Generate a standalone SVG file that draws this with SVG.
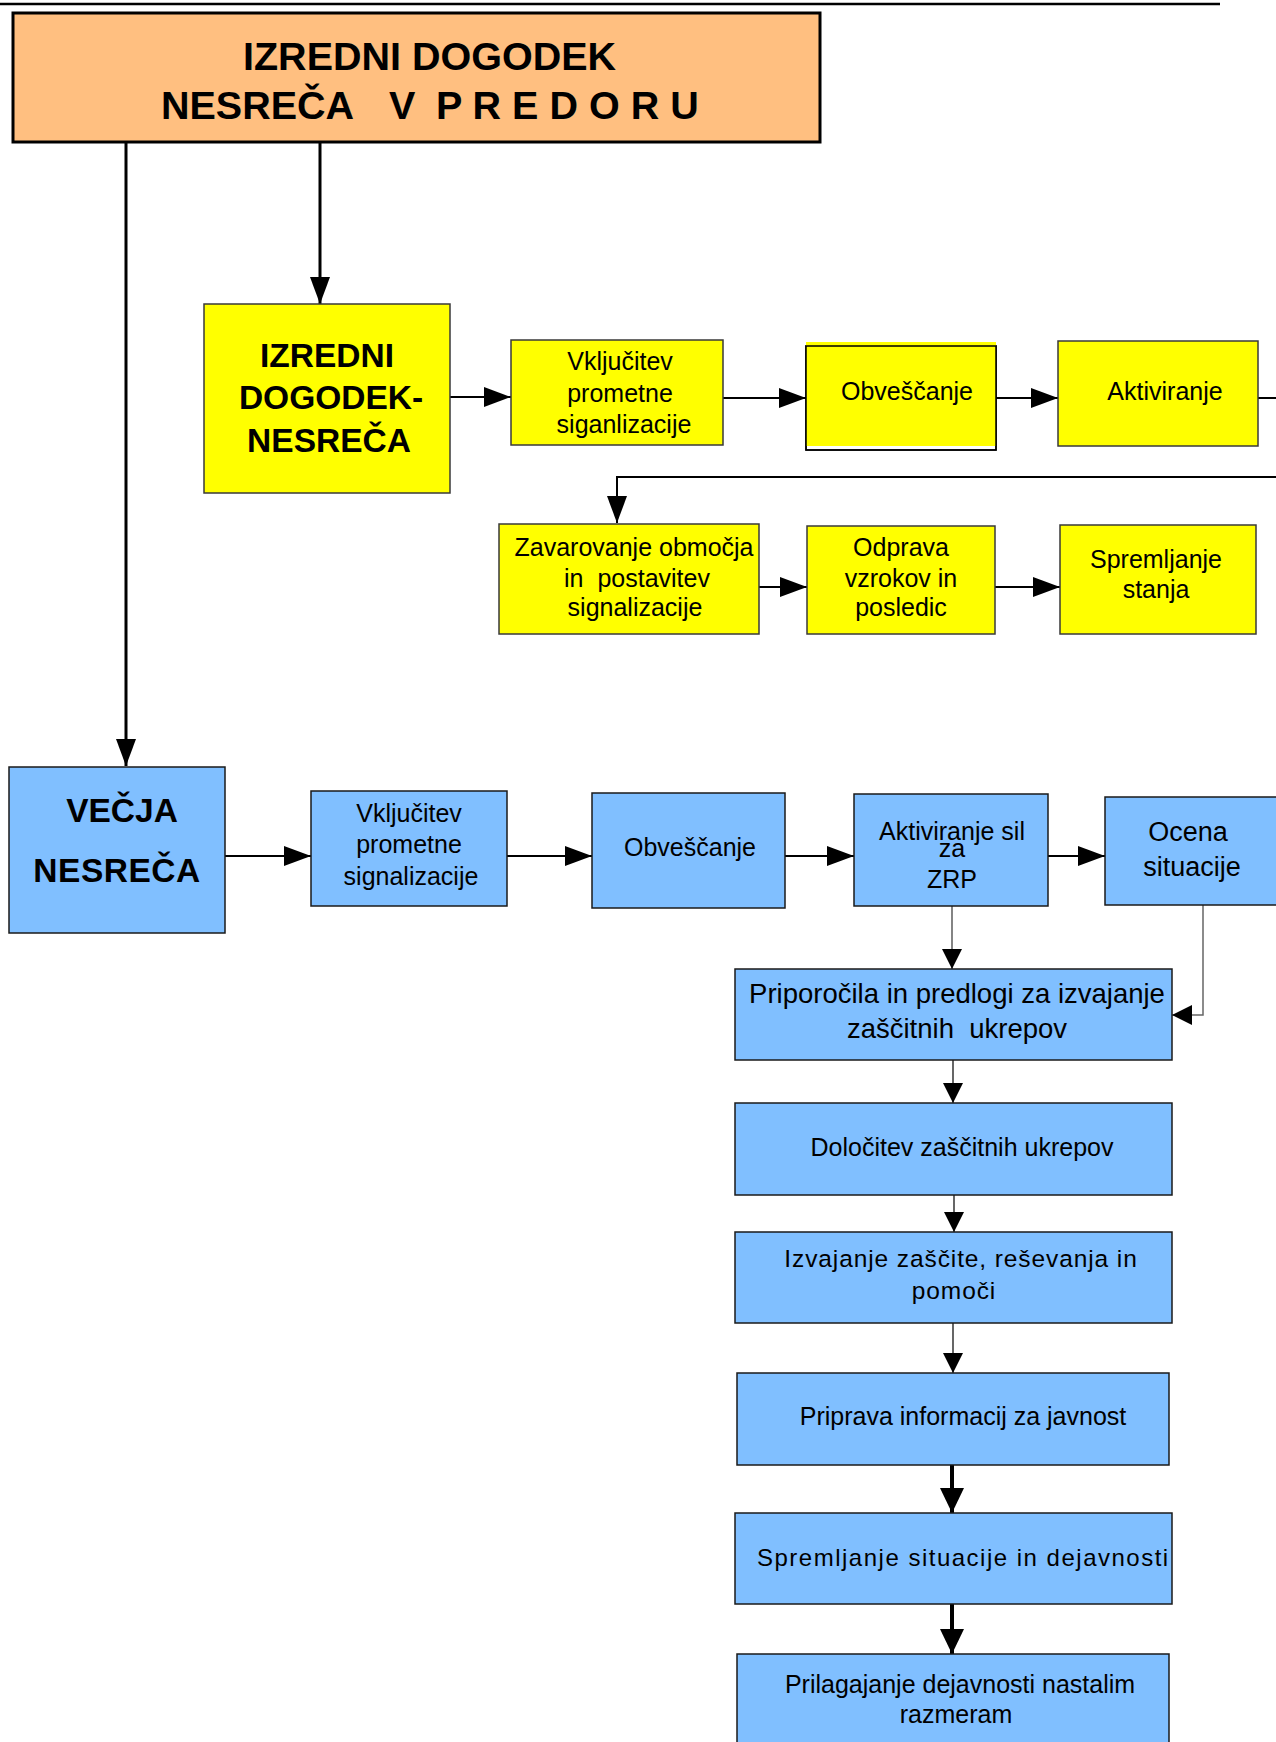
<svg xmlns="http://www.w3.org/2000/svg" width="1276" height="1742" viewBox="0 0 1276 1742">
<style>
text{font-family:"Liberation Sans",Arial,sans-serif;fill:#000}
.t{font-size:25px;text-anchor:middle}
.b{font-weight:bold;text-anchor:middle;font-size:33.5px}
.y{fill:#FFFF00;stroke:#3a3a3a;stroke-width:1.5}
.u{fill:#80BFFF;stroke:#1a1a1a;stroke-width:1.5}
.c{fill:none;stroke:#000;stroke-width:2}
</style>
<defs>
<marker id="a" markerUnits="userSpaceOnUse" markerWidth="27" markerHeight="20" refX="27" refY="10" orient="auto"><path d="M0,0 L27,10 L0,20 z" fill="#000"/></marker>
<marker id="s" markerUnits="userSpaceOnUse" markerWidth="20" markerHeight="20" refX="20" refY="10" orient="auto"><path d="M0,0 L20,10 L0,20 z" fill="#000"/></marker>
<marker id="k" markerUnits="userSpaceOnUse" markerWidth="25" markerHeight="24" refX="25" refY="12" orient="auto"><path d="M0,0 L25,12 L0,24 z" fill="#000"/></marker>
</defs>
<rect width="1276" height="1742" fill="#fff"/>
<line x1="0" y1="4" x2="1220" y2="4" stroke="#000" stroke-width="2.5"/>

<g id="connectors">
<line class="c" x1="126" y1="143" x2="126" y2="766" stroke-width="3" style="stroke-width:3" marker-end="url(#a)"/>
<line class="c" x1="320" y1="143" x2="320" y2="304" style="stroke-width:3" marker-end="url(#a)"/>
<line class="c" x1="450" y1="397" x2="511" y2="397" marker-end="url(#a)"/>
<line class="c" x1="723" y1="398" x2="806" y2="398" marker-end="url(#a)"/>
<line class="c" x1="996" y1="398" x2="1058" y2="398" marker-end="url(#a)"/>
<line class="c" x1="1258" y1="398" x2="1276" y2="398"/>
<polyline class="c" points="1276,477 617,477 617,523" marker-end="url(#a)"/>
<line class="c" x1="759" y1="587" x2="807" y2="587" marker-end="url(#a)"/>
<line class="c" x1="995" y1="587" x2="1060" y2="587" marker-end="url(#a)"/>
<line class="c" x1="225" y1="856" x2="311" y2="856" marker-end="url(#a)"/>
<line class="c" x1="507" y1="856" x2="592" y2="856" marker-end="url(#a)"/>
<line class="c" x1="785" y1="856" x2="854" y2="856" marker-end="url(#a)"/>
<line class="c" x1="1048" y1="856" x2="1105" y2="856" marker-end="url(#a)"/>
<line class="c" x1="952" y1="906" x2="952" y2="969" style="stroke-width:1.2;stroke:#333" marker-end="url(#s)"/>
<polyline class="c" points="1203,905 1203,1015 1172,1015" style="stroke-width:1.5;stroke:#666" marker-end="url(#s)"/>
<line class="c" x1="953" y1="1060" x2="953" y2="1103" style="stroke-width:1.2" marker-end="url(#s)"/>
<line class="c" x1="954" y1="1195" x2="954" y2="1232" style="stroke-width:1.2" marker-end="url(#s)"/>
<line class="c" x1="953" y1="1323" x2="953" y2="1373" style="stroke-width:1.2" marker-end="url(#s)"/>
<line class="c" x1="952" y1="1465" x2="952" y2="1513" style="stroke-width:4" marker-end="url(#k)"/>
<line class="c" x1="952" y1="1604" x2="952" y2="1654" style="stroke-width:4" marker-end="url(#k)"/>
</g>

<g id="n-title">
<rect x="13" y="13" width="807" height="129" fill="#FFBF80" stroke="#000" stroke-width="3"/>
<text x="243" y="70" style="font-size:39.5px;font-weight:bold">IZREDNI DOGODEK</text>
<text y="119" style="font-size:39.5px;font-weight:bold"><tspan x="161">NESREČA</tspan><tspan x="389">V</tspan><tspan x="436">P R E D O R U</tspan></text>
</g>

<g id="n-izredni">
<rect class="y" x="204" y="304" width="246" height="189"/>
<text class="b" x="327" y="367">IZREDNI</text>
<text class="b" x="331" y="409">DOGODEK-</text>
<text class="b" x="329" y="452">NESREČA</text>
</g>

<g id="n-y-vkljucitev">
<rect class="y" x="511" y="340" width="212" height="105"/>
<text class="t" x="620" y="370">Vključitev</text>
<text class="t" x="620" y="402">prometne</text>
<text class="t" x="624" y="433">siganlizacije</text>
</g>

<g id="n-y-obvescanje">
<rect x="806" y="346" width="190" height="104" fill="#fff" stroke="#000" stroke-width="1.5"/>
<rect x="806" y="342" width="190" height="104" fill="#FFFF00"/>
<rect x="806" y="346" width="190" height="104" fill="none" stroke="#000" stroke-width="1.5"/>
<text class="t" x="907" y="400">Obveščanje</text>
</g>

<g id="n-y-aktiviranje">
<rect class="y" x="1058" y="341" width="200" height="105"/>
<text class="t" x="1165" y="400">Aktiviranje</text>
</g>

<g id="n-y-zavarovanje">
<rect class="y" x="499" y="524" width="260" height="110"/>
<text class="t" x="634" y="556">Zavarovanje območja</text>
<text class="t" x="637" y="587" xml:space="preserve">in  postavitev</text>
<text class="t" x="635" y="616">signalizacije</text>
</g>

<g id="n-y-odprava">
<rect class="y" x="807" y="526" width="188" height="108"/>
<text class="t" x="901" y="556">Odprava</text>
<text class="t" x="901" y="587">vzrokov in</text>
<text class="t" x="901" y="616">posledic</text>
</g>

<g id="n-y-spremljanje">
<rect class="y" x="1060" y="525" width="196" height="109"/>
<text class="t" x="1156" y="568">Spremljanje</text>
<text class="t" x="1156" y="598">stanja</text>
</g>

<g id="n-vecja">
<rect class="u" x="9" y="767" width="216" height="166"/>
<text class="b" x="122" y="822">VEČJA</text>
<text class="b" x="117" y="882" style="letter-spacing:0.5px">NESREČA</text>
</g>

<g id="n-b-vkljucitev">
<rect class="u" x="311" y="791" width="196" height="115"/>
<text class="t" x="409" y="822">Vključitev</text>
<text class="t" x="409" y="853">prometne</text>
<text class="t" x="411" y="885">signalizacije</text>
</g>

<g id="n-b-obvescanje">
<rect class="u" x="592" y="793" width="193" height="115"/>
<text class="t" x="690" y="856">Obveščanje</text>
</g>

<g id="n-b-aktiviranje">
<rect class="u" x="854" y="794" width="194" height="112"/>
<text class="t" x="952" y="840">Aktiviranje sil</text>
<text class="t" x="952" y="857">za</text>
<text class="t" x="952" y="888">ZRP</text>
</g>

<g id="n-b-ocena">
<rect class="u" x="1105" y="797" width="185" height="108"/>
<text class="t" x="1188" y="841" style="font-size:27px">Ocena</text>
<text class="t" x="1192" y="876" style="font-size:27px">situacije</text>
</g>

<g id="n-b-priporocila">
<rect class="u" x="735" y="969" width="437" height="91"/>
<text class="t" x="957" y="1003" style="font-size:27.5px">Priporočila in predlogi za izvajanje</text>
<text class="t" x="957" y="1038" style="font-size:27.5px" xml:space="preserve">zaščitnih  ukrepov</text>
</g>

<g id="n-b-dolocitev">
<rect class="u" x="735" y="1103" width="437" height="92"/>
<text class="t" x="962" y="1156">Določitev zaščitnih ukrepov</text>
</g>

<g id="n-b-izvajanje">
<rect class="u" x="735" y="1232" width="437" height="91"/>
<text class="t" x="961" y="1267" style="font-size:24.5px;letter-spacing:0.9px">Izvajanje zaščite, reševanja in</text>
<text class="t" x="954" y="1299" style="font-size:24.5px;letter-spacing:0.9px">pomoči</text>
</g>

<g id="n-b-priprava">
<rect class="u" x="737" y="1373" width="432" height="92"/>
<text class="t" x="963" y="1425">Priprava informacij za javnost</text>
</g>

<g id="n-b-spremljanje">
<rect class="u" x="735" y="1513" width="437" height="91"/>
<text x="757" y="1566" style="font-size:24px;letter-spacing:1.5px">Spremljanje situacije in dejavnosti</text>
</g>

<g id="n-b-prilagajanje">
<rect class="u" x="737" y="1654" width="432" height="100"/>
<text class="t" x="960" y="1693">Prilagajanje dejavnosti nastalim</text>
<text class="t" x="956" y="1723">razmeram</text>
</g>
</svg>
